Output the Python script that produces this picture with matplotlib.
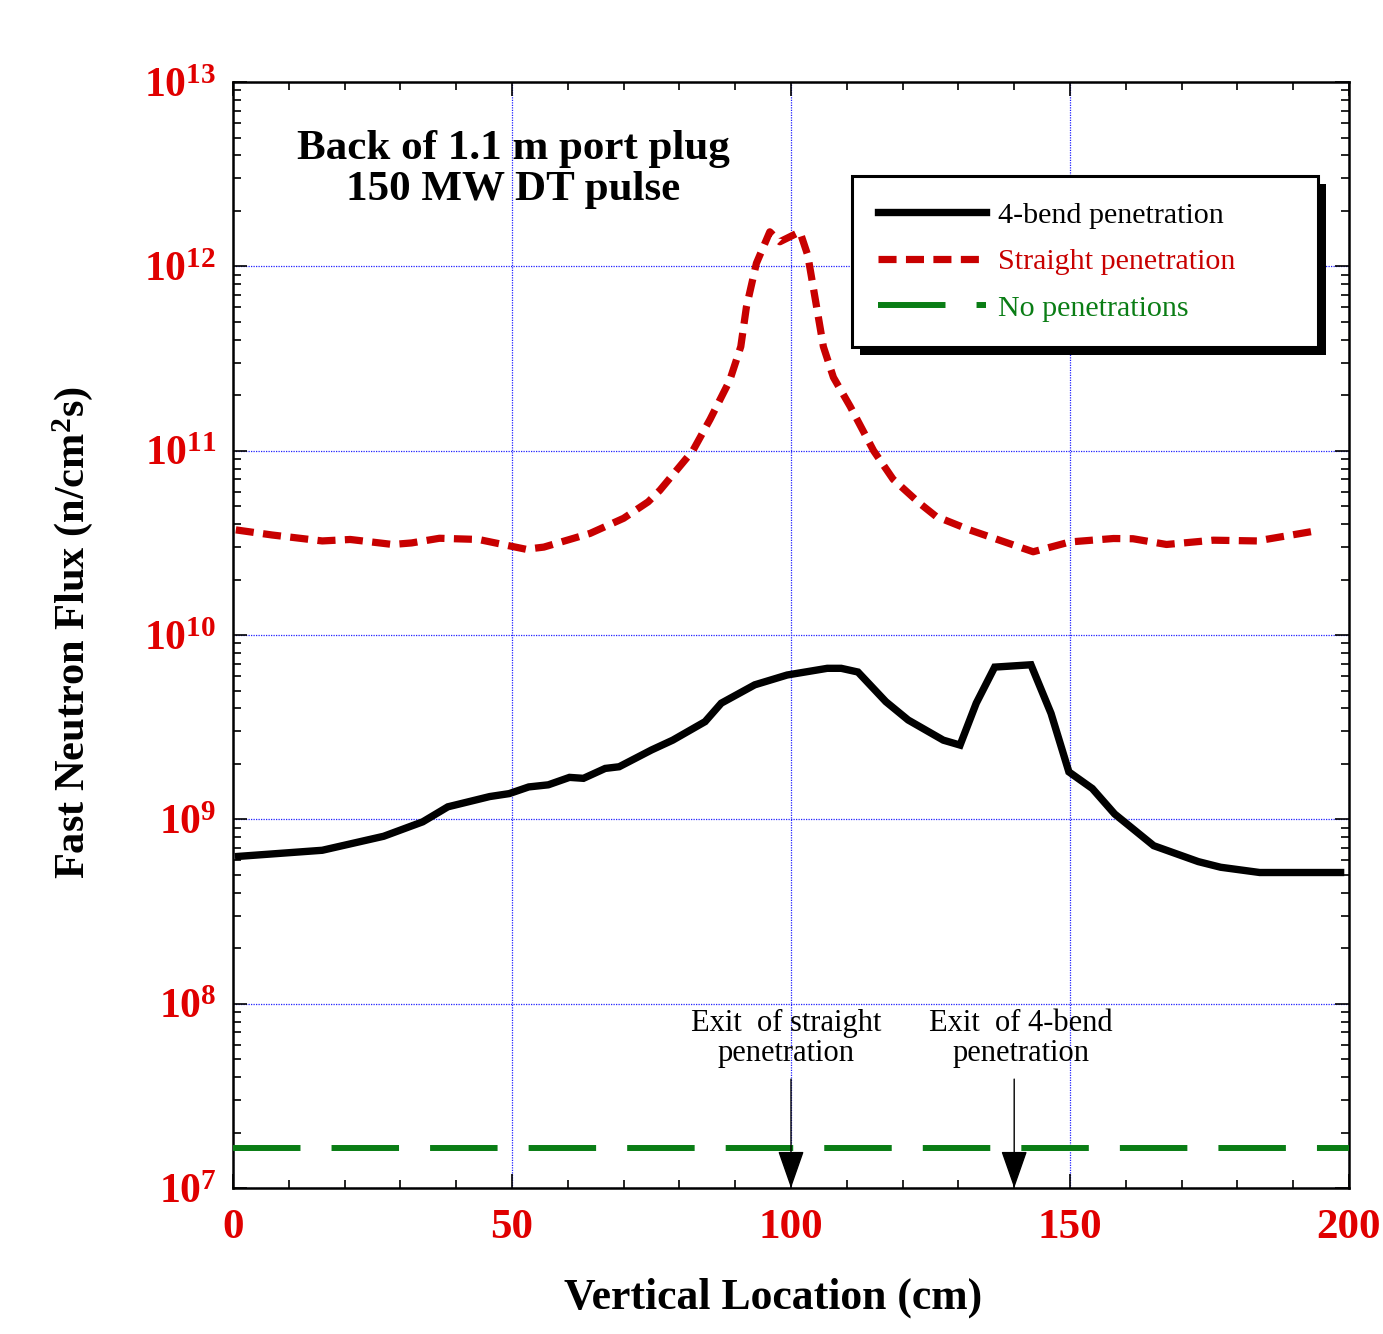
import math
import matplotlib
matplotlib.use("Agg")
import matplotlib.pyplot as plt
from matplotlib.ticker import LogLocator, FuncFormatter, MultipleLocator
from matplotlib.patches import Rectangle

plt.rcParams['font.family'] = 'Liberation Serif'
plt.rcParams['mathtext.fontset'] = 'custom'
plt.rcParams['mathtext.rm'] = 'Liberation Serif'
plt.rcParams['mathtext.bf'] = 'Liberation Serif:bold'

# 4-bend penetration
bend_x = [1, 16, 27, 34, 38.5, 46, 49.5, 53, 56.5, 60.3, 62.8, 66.7, 69.2, 75, 78.8,
          84.6, 87.5, 93.5, 99.3, 106.5, 109, 112, 117, 121, 127.3, 130.3, 133.2,
          136.5, 143, 146.6, 149.8, 154, 158, 165, 173, 177, 184, 198.5]
bend_y = [6.3e8, 6.8e8, 8.1e8, 9.7e8, 1.17e9, 1.33e9, 1.38e9, 1.5e9, 1.54e9, 1.69e9,
          1.67e9, 1.89e9, 1.93e9, 2.38e9, 2.69e9, 3.39e9, 4.27e9, 5.37e9, 6.07e9,
          6.6e9, 6.6e9, 6.3e9, 4.35e9, 3.46e9, 2.69e9, 2.53e9, 4.27e9, 6.7e9, 6.9e9,
          3.76e9, 1.81e9, 1.47e9, 1.07e9, 7.2e8, 5.9e8, 5.5e8, 5.15e8, 5.15e8]

# straight penetration
straight_x = [0.5, 7, 16, 21, 28.6, 32, 37, 44, 52.5, 55.7, 64, 70, 74.4, 76.5, 82.4,
              85.5, 89, 91, 92, 93.8, 96.2, 98, 101.6, 103, 104.6, 105.8, 107.6, 110.6,
              114.8, 118.3, 123, 126, 132, 143.4, 150, 157.8, 161.3, 167.3, 175.7,
              183.5, 194.2]
straight_y = [3.72e10, 3.49e10, 3.24e10, 3.3e10, 3.1e10, 3.16e10, 3.35e10, 3.3e10,
              2.92e10, 3.0e10, 3.56e10, 4.3e10, 5.28e10, 6.1e10, 1.0e11, 1.48e11,
              2.4e11, 3.67e11, 6.0e11, 1.04e12, 1.54e12, 1.36e12, 1.54e12, 1.15e12,
              6.0e11, 3.67e11, 2.5e11, 1.74e11, 1.0e11, 7.0e10, 5.2e10, 4.4e10,
              3.72e10, 2.83e10, 3.2e10, 3.34e10, 3.33e10, 3.1e10, 3.27e10, 3.24e10,
              3.68e10]

# no penetrations
none_x = [0, 200]
none_y = [1.65e7, 1.65e7]

# exit markers
exit_x = [100, 140]
exit_labels = ["Exit  of straight\npenetration", "Exit  of 4-bend\npenetration"]
exit_text_x = [99.1, 141.2]

red_tick = '#e00000'

fig = plt.figure(figsize=(13.83, 13.34), dpi=100)
ax = fig.add_axes([0.1685, 0.1094, 0.8069, 0.8291])

ax.plot(bend_x, bend_y, color='black', lw=5.3, solid_joinstyle='miter',
        label='4-bend penetration', zorder=3)
ax.plot(straight_x, straight_y, color='#c80000', lw=5.2, dashes=(2.5, 1.3),
        label='Straight penetration', zorder=3)
ax.plot(none_x, none_y, color='#0a7d15', lw=4.3, dashes=(11.3, 5.2),
        label='No penetrations', zorder=3)

ax.set_yscale('log')
ax.set_xlim(0, 200)
ax.set_ylim(1e7, 1e13)

ax.xaxis.set_major_locator(MultipleLocator(50))
ax.xaxis.set_minor_locator(MultipleLocator(10))
ax.yaxis.set_major_locator(LogLocator(base=10, numticks=20))
ax.yaxis.set_minor_locator(LogLocator(base=10, subs=range(2, 10), numticks=20))
ax.yaxis.set_major_formatter(FuncFormatter(lambda v, p: r'$\mathbf{10^{%d}}$' % round(math.log10(v))))
ax.yaxis.set_minor_formatter(FuncFormatter(lambda v, p: ''))
ax.xaxis.set_major_formatter(FuncFormatter(lambda v, p: '%d' % v))

ax.tick_params(which='both', direction='in', top=True, right=True, width=1.2)
ax.tick_params(which='major', length=10)
ax.tick_params(which='minor', length=5.5)
ax.tick_params(axis='x', which='major', labelsize=31, labelcolor=red_tick, pad=15)
ax.tick_params(axis='y', which='major', labelsize=30, labelcolor=red_tick, pad=12)
for lab in ax.get_xticklabels():
    lab.set_fontweight('bold')

for s in ax.spines.values():
    s.set_linewidth(1.8)

ax.grid(True, which='major', color='#2020ff', lw=0.9, linestyle=(0, (1, 1)))

ax.set_xlabel('Vertical Location (cm)', fontsize=31.5, fontweight='bold', va='center')
ax.set_ylabel(r'Fast Neutron Flux (n/cm$\mathbf{^2}$s)', fontsize=30.5, fontweight='bold',
              va='center')
ax.xaxis.set_label_coords(0.484, -0.0995)
ax.yaxis.set_label_coords(-0.144, 0.502)

ax.text(0.251, 0.957, "Back of 1.1 m port plug\n150 MW DT pulse", transform=ax.transAxes,
        ha='center', va='top', fontsize=31, fontweight='bold', linespacing=1.12)

for xe, lab, xt in zip(exit_x, exit_labels, exit_text_x):
    ax.annotate('', xy=(xe, 1e7), xytext=(xe, 3.9e7),
                arrowprops=dict(arrowstyle='-|>,head_length=1.2,head_width=0.42',
                                color='black', lw=1, shrinkA=0, shrinkB=0,
                                mutation_scale=20), zorder=4)
    ax.text(xt, 9.4e7, lab, ha='center', va='top', fontsize=22, linespacing=1.08)

leg = ax.legend(loc='upper left', bbox_to_anchor=(0.5547, 0.0, 0.4176, 0.915),
                mode='expand', borderaxespad=0,
                fontsize=21.6, frameon=True, fancybox=False, edgecolor='black',
                framealpha=1, handlelength=3.6, handletextpad=0.4, labelspacing=0.65,
                borderpad=0.85, labelcolor='linecolor')
leg.get_frame().set_linewidth(2.2)
leg.set_zorder(6)

# drop shadow behind legend
fig.canvas.draw()
bb = leg.get_window_extent().transformed(ax.transAxes.inverted())
dx = 8 / 1116.0
dy = 8 / 1106.0
ax.add_patch(Rectangle((bb.x0 + dx, bb.y0 - dy), bb.width, bb.height, transform=ax.transAxes,
                       facecolor='black', edgecolor='none', zorder=5.5))

fig.savefig('out.png', dpi=100)
